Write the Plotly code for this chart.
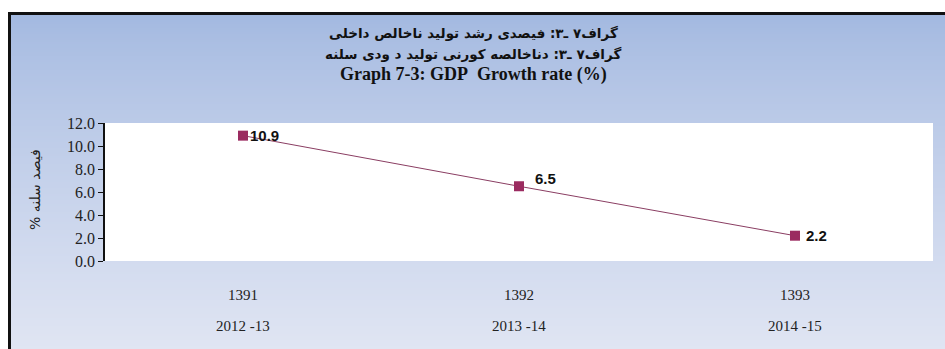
import plotly.graph_objects as go

# Data
years_sh = ["1391", "1392", "1393"]
years_greg = ["2012 -13", "2013 -14", "2014 -15"]
growth = [10.9, 6.5, 2.2]

title_fa = "گراف۷ ـ۳: فیصدی رشد تولید ناخالص داخلی"
title_ps = "گراف۷ ـ۳: دناخالصه کورنی تولید د ودی سلنه"
title_en = "Graph 7-3: GDP\u00a0 Growth rate (%)"
y_title = "فیصد سلنه %"

# Label offsets (pixels) relative to each marker
label_dx = [5, 14, 9]
label_dy = [0, 8, 0]

W, H = 945, 349
ML, MR, MT, MB = 105, 12, 123, 88
PW, PH = W - ML - MR, H - MT - MB

SERIF = "Liberation Serif, Times New Roman, serif"
SANS = "Liberation Sans, Arial, sans-serif"
ARABIC = "DejaVu Sans"


def px_x(px):
    return (px - ML) / PW


def px_y(py):
    return (H - MB - py) / PH


RLM = "\u200f"
fig = go.Figure()

fig.add_trace(go.Scatter(
    x=years_sh, y=growth, mode="lines+markers",
    line=dict(color="#8a3d62", width=1),
    marker=dict(symbol="square", size=10, color="#9b2b60"),
    hoverinfo="skip", showlegend=False,
))

shapes = []
# vertical gradient background
top_c = (162, 184, 224)
bot_c = (224, 229, 243)
y0, y1 = 14, H
step = 2
for yy in range(y0, y1, step):
    t = (yy - y0) / (y1 - y0)
    t = t ** 0.8
    c = tuple(round(a + (b - a) * t) for a, b in zip(top_c, bot_c))
    shapes.append(dict(
        type="rect", xref="paper", yref="paper", layer="below",
        x0=px_x(8), x1=px_x(W + 2), y0=px_y(yy), y1=px_y(yy + step + 0.5),
        line=dict(width=0), fillcolor="rgb(%d,%d,%d)" % c,
    ))
# white plotting area
shapes.append(dict(type="rect", xref="paper", yref="paper", layer="below",
                   x0=0, x1=1, y0=0, y1=1, line=dict(width=0), fillcolor="white"))
# dark frame along top and left
shapes.append(dict(type="line", xref="paper", yref="paper",
                   x0=px_x(8), x1=px_x(W + 2), y0=px_y(13.5), y1=px_y(13.5),
                   line=dict(color="#111111", width=3)))
shapes.append(dict(type="line", xref="paper", yref="paper",
                   x0=px_x(9.5), x1=px_x(9.5), y0=px_y(12), y1=px_y(H + 2),
                   line=dict(color="#111111", width=3)))

annotations = []
# value labels (category axis positions given by index)
for i, (v, dx, dy) in enumerate(zip(growth, label_dx, label_dy)):
    annotations.append(dict(
        x=i, y=v, xref="x", yref="y", text="<b>%.1f</b>" % v, showarrow=False,
        xanchor="left", yanchor="middle", xshift=dx, yshift=dy,
        font=dict(family=SANS, size=15, color="#111111"),
    ))
# two-row category labels
for i, (cat, g) in enumerate(zip(years_sh, years_greg)):
    annotations.append(dict(
        x=i, y=px_y(295), xref="x", yref="paper", text=cat, showarrow=False,
        xanchor="center", yanchor="middle",
        font=dict(family=SERIF, size=15, color="#222222"),
    ))
    annotations.append(dict(
        x=i, y=px_y(326), xref="x", yref="paper", text=g, showarrow=False,
        xanchor="center", yanchor="middle",
        font=dict(family=SERIF, size=15, color="#222222"),
    ))
# titles
annotations.append(dict(x=px_x(473), y=px_y(33), xref="paper", yref="paper",
                        text="<b>" + RLM + title_fa + RLM + "</b>", showarrow=False,
                        xanchor="center", yanchor="middle",
                        font=dict(family=ARABIC, size=13.5, color="#111111")))
annotations.append(dict(x=px_x(473), y=px_y(54), xref="paper", yref="paper",
                        text="<b>" + RLM + title_ps + RLM + "</b>", showarrow=False,
                        xanchor="center", yanchor="middle",
                        font=dict(family=ARABIC, size=13.5, color="#111111")))
annotations.append(dict(x=px_x(473), y=px_y(74), xref="paper", yref="paper",
                        text="<b>" + title_en + "</b>", showarrow=False,
                        xanchor="center", yanchor="middle",
                        font=dict(family=SERIF, size=18, color="#111111")))
# y-axis title
annotations.append(dict(x=px_x(35), y=px_y(190), xref="paper", yref="paper",
                        text=RLM + y_title + RLM, showarrow=False, textangle=-90,
                        xanchor="center", yanchor="middle",
                        font=dict(family=ARABIC, size=14, color="#222222")))

fig.update_layout(
    width=W, height=H,
    margin=dict(l=ML, r=MR, t=MT, b=MB, pad=0),
    paper_bgcolor="white", plot_bgcolor="white",
    shapes=shapes, annotations=annotations,
    xaxis=dict(type="category", range=[-0.5, 2.5], showticklabels=False,
               showgrid=False, zeroline=False, showline=False, ticks=""),
    yaxis=dict(range=[0, 12], dtick=2, tickformat=".1f", showgrid=False,
               zeroline=False, showline=True, linecolor="#111111", linewidth=1.5,
               ticks="outside", ticklen=5, tickcolor="#111111", tickwidth=1,
               tickfont=dict(family=SERIF, size=16, color="#222222")),
)

fig.write_html("out.html")
